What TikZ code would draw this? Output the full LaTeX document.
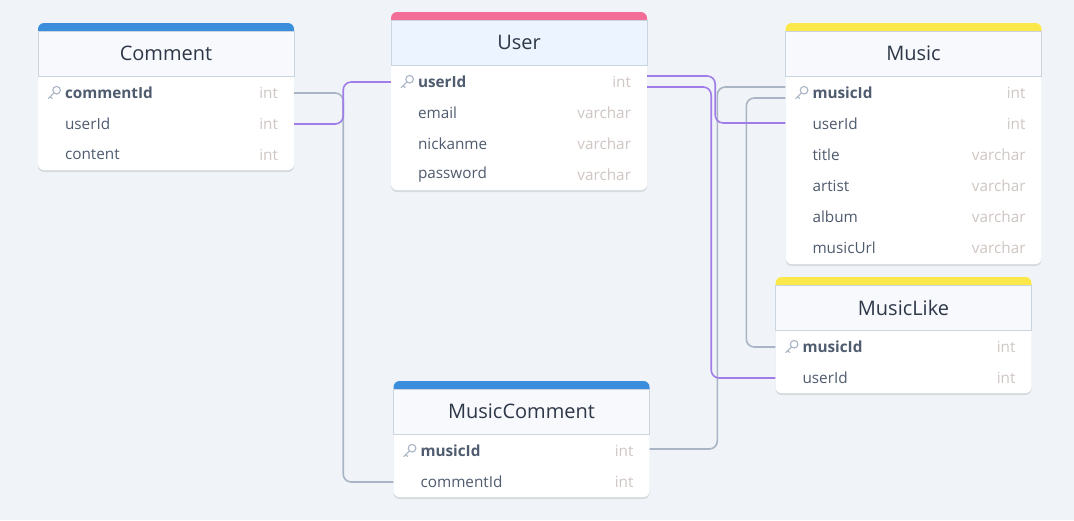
\documentclass[tikz,border=0pt]{standalone}
\usepackage{fontspec}
\setmainfont{Open Sans}
\usepackage{xcolor}
\usepackage{tikz}
\usetikzlibrary{arrows,shadows,calc}

\definecolor{canvasbg}{HTML}{F0F4F8}
\definecolor{fkpurple}{HTML}{A07CE8}
\definecolor{fkgray}{HTML}{A9B4C4}
\definecolor{titletext}{HTML}{2D3748}
\definecolor{nametext}{HTML}{4F5B6E}
\definecolor{typetext}{HTML}{CFC6C2}
\definecolor{headfill}{HTML}{F7F9FC}
\definecolor{userfill}{HTML}{EBF4FF}
\definecolor{headline}{HTML}{CBD5E0}
\definecolor{barblue}{HTML}{3A8EDB}
\definecolor{barpink}{HTML}{F26E96}
\definecolor{baryellow}{HTML}{FDE84B}

\tikzset{
  card/.style={rectangle, fill=white, rounded corners=6pt, inner sep=0pt,
    minimum width=256pt,
    drop shadow={shadow xshift=0pt, shadow yshift=-2pt, opacity=0.10, fill=black}},
  bar/.style={rectangle, rounded corners=6pt, inner sep=0pt,
    minimum width=256pt, minimum height=14pt},
  header/.style={rectangle, draw=headline, line width=0.8pt, fill=headfill,
    inner sep=0pt, minimum width=256pt, minimum height=45pt,
    text=titletext, font=\fontsize{20}{24}\selectfont},
  fieldrow/.style={rectangle, inner sep=0pt, minimum width=256pt, minimum height=31pt},
  fieldname/.style={anchor=west, inner sep=0pt, text=nametext,
    font=\fontsize{15.3}{18}\selectfont},
  keyname/.style={fieldname, font=\fontsize{15.3}{18}\selectfont\bfseries},
  fieldtype/.style={anchor=east, inner sep=0pt, text=typetext,
    font=\fontsize{15.3}{18}\selectfont},
  fk/.style={rounded corners=8pt, line width=1.6pt},
  keyicon/.pic={
    \draw[fkgray, line width=1.1pt] (2.8,-2.8) circle (3.8);
    \draw[fkgray, line width=1.1pt, line cap=round] (0.1,-0.1) -- (-5.5,5.5)
      (-3.6,3.6) -- (-1.6,5.6);
  }
}

\begin{document}
\begin{tikzpicture}[x=1pt,y=-1pt]

    \fill[canvasbg] (0,0) rectangle (1074,520);
    \useasboundingbox (0,0) rectangle (1074,520);

    % Comment
    \node[card, minimum height=147pt] (comment) at (166,96.5) {};
    \node[bar, fill=barblue] (comment-bar) at (166,30) {};
    \node[header] (comment-head) at (166,53.5) {Comment};
    \node[fieldrow] (comment-commentId) at (166,93) {};
    \node[keyname] (comment-commentId-n) at ([xshift=27pt]comment-commentId.west) {commentId};
    \node[fieldtype] (comment-commentId-t) at ([xshift=-16pt]comment-commentId.east) {int};
    \pic at ([xshift=16pt]comment-commentId.west) {keyicon};
    \node[fieldrow] (comment-userId) at (166,124) {};
    \node[fieldname] (comment-userId-n) at ([xshift=27pt]comment-userId.west) {userId};
    \node[fieldtype] (comment-userId-t) at ([xshift=-16pt]comment-userId.east) {int};
    \node[fieldrow] (comment-content) at (166,155) {};
    \node[fieldname] (comment-content-n) at ([xshift=27pt]comment-content.west) {content};
    \node[fieldtype] (comment-content-t) at ([xshift=-16pt]comment-content.east) {int};

    % User
    \node[card, minimum height=178pt] (user) at (519,101) {};
    \node[bar, fill=barpink] (user-bar) at (519,19) {};
    \node[header, fill=userfill] (user-head) at (519,42.5) {User};
    \node[fieldrow] (user-userId) at (519,82) {};
    \node[keyname] (user-userId-n) at ([xshift=27pt]user-userId.west) {userId};
    \node[fieldtype] (user-userId-t) at ([xshift=-16pt]user-userId.east) {int};
    \pic at ([xshift=16pt]user-userId.west) {keyicon};
    \node[fieldrow] (user-email) at (519,113) {};
    \node[fieldname] (user-email-n) at ([xshift=27pt]user-email.west) {email};
    \node[fieldtype] (user-email-t) at ([xshift=-16pt]user-email.east) {varchar};
    \node[fieldrow] (user-nickanme) at (519,144) {};
    \node[fieldname] (user-nickanme-n) at ([xshift=27pt]user-nickanme.west) {nickanme};
    \node[fieldtype] (user-nickanme-t) at ([xshift=-16pt]user-nickanme.east) {varchar};
    \node[fieldrow] (user-password) at (519,175) {};
    \node[fieldname] (user-password-n) at ([xshift=27pt]user-password.west) {password};
    \node[fieldtype] (user-password-t) at ([xshift=-16pt]user-password.east) {varchar};

    % Music
    \node[card, minimum height=241pt] (music) at (913.5,143.5) {};
    \node[bar, fill=baryellow] (music-bar) at (913.5,30) {};
    \node[header] (music-head) at (913.5,53.5) {Music};
    \node[fieldrow] (music-musicId) at (913.5,93) {};
    \node[keyname] (music-musicId-n) at ([xshift=27pt]music-musicId.west) {musicId};
    \node[fieldtype] (music-musicId-t) at ([xshift=-16pt]music-musicId.east) {int};
    \pic at ([xshift=16pt]music-musicId.west) {keyicon};
    \node[fieldrow] (music-userId) at (913.5,124) {};
    \node[fieldname] (music-userId-n) at ([xshift=27pt]music-userId.west) {userId};
    \node[fieldtype] (music-userId-t) at ([xshift=-16pt]music-userId.east) {int};
    \node[fieldrow] (music-title) at (913.5,155) {};
    \node[fieldname] (music-title-n) at ([xshift=27pt]music-title.west) {title};
    \node[fieldtype] (music-title-t) at ([xshift=-16pt]music-title.east) {varchar};
    \node[fieldrow] (music-artist) at (913.5,186) {};
    \node[fieldname] (music-artist-n) at ([xshift=27pt]music-artist.west) {artist};
    \node[fieldtype] (music-artist-t) at ([xshift=-16pt]music-artist.east) {varchar};
    \node[fieldrow] (music-album) at (913.5,217) {};
    \node[fieldname] (music-album-n) at ([xshift=27pt]music-album.west) {album};
    \node[fieldtype] (music-album-t) at ([xshift=-16pt]music-album.east) {varchar};
    \node[fieldrow] (music-musicUrl) at (913.5,248) {};
    \node[fieldname] (music-musicUrl-n) at ([xshift=27pt]music-musicUrl.west) {musicUrl};
    \node[fieldtype] (music-musicUrl-t) at ([xshift=-16pt]music-musicUrl.east) {varchar};

    % MusicLike
    \node[card, minimum height=116pt] (like) at (903.5,335) {};
    \node[bar, fill=baryellow] (like-bar) at (903.5,284) {};
    \node[header] (like-head) at (903.5,307.5) {MusicLike};
    \node[fieldrow] (like-musicId) at (903.5,347) {};
    \node[keyname] (like-musicId-n) at ([xshift=27pt]like-musicId.west) {musicId};
    \node[fieldtype] (like-musicId-t) at ([xshift=-16pt]like-musicId.east) {int};
    \pic at ([xshift=16pt]like-musicId.west) {keyicon};
    \node[fieldrow] (like-userId) at (903.5,378) {};
    \node[fieldname] (like-userId-n) at ([xshift=27pt]like-userId.west) {userId};
    \node[fieldtype] (like-userId-t) at ([xshift=-16pt]like-userId.east) {int};

    % MusicComment
    \node[card, minimum height=116pt] (mc) at (521.5,439) {};
    \node[bar, fill=barblue] (mc-bar) at (521.5,388) {};
    \node[header] (mc-head) at (521.5,411.5) {MusicComment};
    \node[fieldrow] (mc-musicId) at (521.5,451) {};
    \node[keyname] (mc-musicId-n) at ([xshift=27pt]mc-musicId.west) {musicId};
    \node[fieldtype] (mc-musicId-t) at ([xshift=-16pt]mc-musicId.east) {int};
    \pic at ([xshift=16pt]mc-musicId.west) {keyicon};
    \node[fieldrow] (mc-commentId) at (521.5,482) {};
    \node[fieldname] (mc-commentId-n) at ([xshift=27pt]mc-commentId.west) {commentId};
    \node[fieldtype] (mc-commentId-t) at ([xshift=-16pt]mc-commentId.east) {int};

    % relations
    \draw[fk, fkgray] (comment-commentId.east) -- ++(49,0) |- (mc-commentId.west);
    \draw[fk, fkpurple] (comment-userId.east) -- ++(49,0) |- (user-userId.west);
    \draw[fk, fkgray] ([yshift=6pt]music-musicId.west) -- ++(-68,0) |- ([yshift=2pt]mc-musicId.east);
    \draw[fk, fkgray] ([yshift=-5pt]music-musicId.west) -- ++(-39,0) |- (like-musicId.west);
    \draw[fk, fkpurple] ([yshift=6pt]user-userId.east) -- ++(68,0) |- ([yshift=1pt]music-userId.west);
    \draw[fk, fkpurple] ([yshift=-5pt]user-userId.east) -- ++(64,0) |- (like-userId.west);

\end{tikzpicture}
\end{document}
